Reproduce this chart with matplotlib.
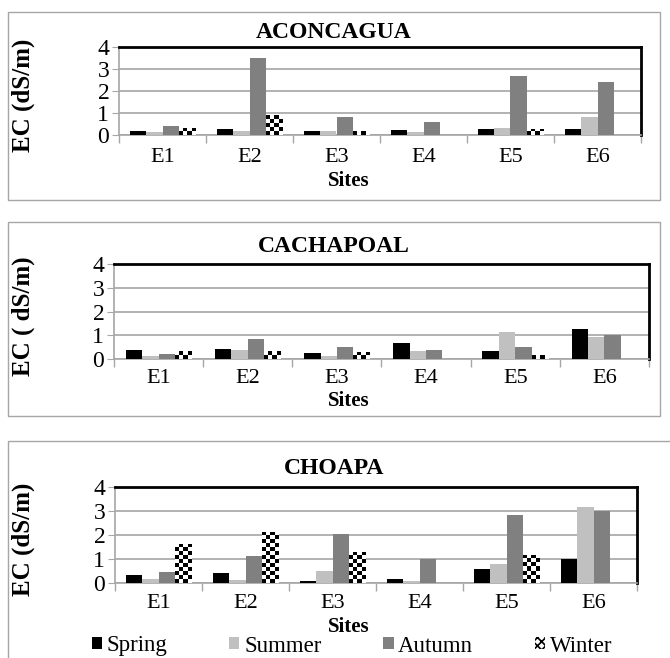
import numpy as np
import matplotlib
matplotlib.use("Agg")
import matplotlib.pyplot as plt
from matplotlib.patches import Rectangle, Patch

plt.rcParams["font.family"] = ["Liberation Serif", "DejaVu Serif"]
plt.rcParams["hatch.linewidth"] = 1.2

sites = ["E1", "E2", "E3", "E4", "E5", "E6"]
seasons = ["Spring", "Summer", "Autumn", "Winter"]

# EC (dS/m) per river, one list per season
aconcagua_spring = [0.20, 0.29, 0.20, 0.24, 0.29, 0.26]
aconcagua_summer = [0.15, 0.17, 0.20, 0.15, 0.33, 0.80]
aconcagua_autumn = [0.39, 3.50, 0.83, 0.58, 2.67, 2.40]
aconcagua_winter = [0.30, 0.95, 0.24, 0.00, 0.29, 0.00]

cachapoal_spring = [0.38, 0.41, 0.27, 0.67, 0.35, 1.26]
cachapoal_summer = [0.13, 0.39, 0.14, 0.32, 1.15, 0.91]
cachapoal_autumn = [0.21, 0.83, 0.50, 0.38, 0.50, 0.99]
cachapoal_winter = [0.33, 0.32, 0.31, 0.00, 0.24, 0.00]

choapa_spring = [0.35, 0.42, 0.10, 0.15, 0.57, 1.01]
choapa_summer = [0.17, 0.13, 0.50, 0.07, 0.79, 3.17]
choapa_autumn = [0.47, 1.14, 2.05, 0.99, 2.83, 3.00]
choapa_winter = [1.61, 2.12, 1.28, 0.00, 1.18, 0.00]

panels = [
    ("ACONCAGUA", "EC (dS/m)",
     [aconcagua_spring, aconcagua_summer, aconcagua_autumn, aconcagua_winter]),
    ("CACHAPOAL", "EC ( dS/m)",
     [cachapoal_spring, cachapoal_summer, cachapoal_autumn, cachapoal_winter]),
    ("CHOAPA", "EC (dS/m)",
     [choapa_spring, choapa_summer, choapa_autumn, choapa_winter]),
]

W, H = 670, 658
fig = plt.figure(figsize=(W / 100, H / 100), dpi=100)

# pixel layout: (left, right, top, bottom) of each plot area, and outer frame
axes_px = [(119, 641, 47, 135), (114, 649, 264, 359), (115, 637, 487, 583)]
frames_px = [(8, 660, 12, 200), (8, 660, 222, 416), (8, 700, 441, 700)]
title_y = [33, 246, 468]
sites_y = [181, 401, 627]
tick_pad = [9, 7, 8]

colors = ["black", "#c0c0c0", "#808080"]
bw = 0.184
x = np.arange(len(sites))
check_px = 4  # size of a checker square in pixels

for k, (title, ylab, series) in enumerate(panels):
    fl, fr, ft, fb = frames_px[k]
    fig.patches.append(Rectangle((fl / W, 1 - fb / H), (fr - fl) / W, (fb - ft) / H,
                                 transform=fig.transFigure, fill=False,
                                 edgecolor="#a6a6a6", lw=1.0))
    l, r, t, b = axes_px[k]
    ax = fig.add_axes([l / W, 1 - b / H, (r - l) / W, (b - t) / H])
    px_per_unit = (b - t) / 4
    for i, vals in enumerate(series):
        if seasons[i] == "Winter":
            bars = ax.bar(x + (i - 1.5) * bw, vals, bw, color="white", lw=0, zorder=3)
            # checkerboard fill clipped to each bar
            for rect in bars:
                h = rect.get_height()
                if h <= 0:
                    continue
                x0, w = rect.get_x(), rect.get_width()
                nx = 4
                ny = max(1, int(round(h * px_per_unit / check_px)))
                pat = np.indices((ny, nx)).sum(axis=0) % 2
                im = ax.imshow(pat, cmap="gray", vmin=0, vmax=1, origin="lower",
                               extent=(x0, x0 + w, 0, ny * check_px / px_per_unit),
                               aspect="auto", interpolation="nearest", zorder=3.5)
                im.set_clip_path(rect)
        else:
            ax.bar(x + (i - 1.5) * bw, vals, bw, color=colors[i], zorder=3)
    ax.set_xlim(-0.5, 5.5)
    ax.set_ylim(0, 4)
    ax.set_yticks([0, 1, 2, 3, 4])
    ax.grid(axis="y", color="#a6a6a6", lw=1.2, zorder=0)
    ax.set_xticks(x)
    ax.set_xticklabels(sites)
    ax.set_xticks(np.arange(-0.5, 6.0, 1.0), minor=True)
    ax.tick_params(axis="x", which="major", length=0, labelsize=16, pad=tick_pad[k])
    ax.tick_params(axis="x", which="minor", length=6, color="#a6a6a6", width=1)
    ax.tick_params(axis="y", labelsize=17, length=5, color="#a6a6a6", pad=2)
    for s in ["left", "bottom"]:
        ax.spines[s].set_color("#a6a6a6")
        ax.spines[s].set_linewidth(1.2)
    for s in ["top", "right"]:
        ax.spines[s].set_color("black")
        ax.spines[s].set_linewidth(2)
    ax.set_ylabel(ylab, fontsize=18, fontweight="bold")
    ax.yaxis.set_label_coords((35 - l) / (r - l), 0.45)
    fig.text(334 / W, 1 - title_y[k] / H, title, ha="center", va="center",
             fontsize=17, fontweight="bold")
    fig.text(349 / W, 1 - sites_y[k] / H, "Sites", ha="center", va="center",
             fontsize=15, fontweight="bold")
    if k == 2:
        handles = [Patch(facecolor=c) for c in colors]
        handles.append(Patch(facecolor="white", edgecolor="black", hatch="xxxx", lw=0))
        fig.legend(handles, seasons, loc="center", ncol=4,
                   bbox_to_anchor=(352 / W, 1 - 646 / H), frameon=False,
                   fontsize=16.5, handlelength=0.45, handleheight=0.45,
                   handletextpad=0.2, columnspacing=2.7, borderpad=0)

fig.savefig("out.png", dpi=100)
